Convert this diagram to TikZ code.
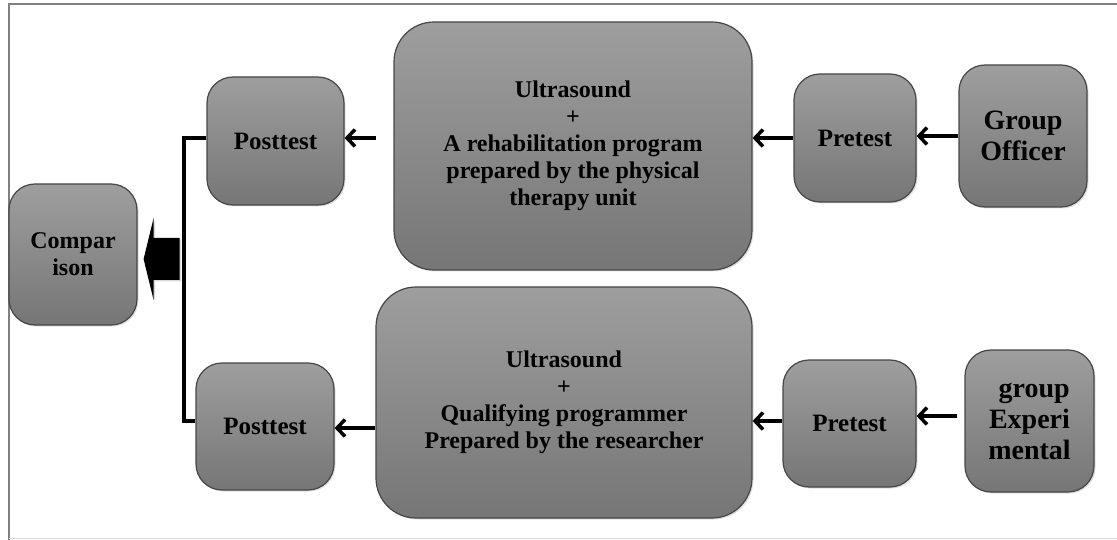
\documentclass[tikz,border=0pt]{standalone}
\usepackage{fontspec}
\setmainfont{Liberation Serif}
\usetikzlibrary{arrows.meta,shadows}
\definecolor{boxtop}{RGB}{158,158,158}
\definecolor{boxbot}{RGB}{118,118,118}
\definecolor{boxline}{RGB}{70,70,70}
\tikzset{
  box/.style={draw=boxline, line width=1.2pt, rounded corners=26pt,
    top color=boxtop, bottom color=boxbot, align=center, inner sep=2pt,
    font=\bfseries\fontsize{24}{27}\selectfont,
    drop shadow={opacity=0.25, shadow xshift=1.5pt, shadow yshift=-1.5pt}},
  bigbox/.style={box, rounded corners=40pt},
  grpfont/.style={font=\bfseries\fontsize{28}{31}\selectfont},
  tfont/.style={font=\bfseries\fontsize{25}{28}\selectfont},
  arr/.style={line width=3.5pt, -{Straight Barb[length=8pt,width=17pt]}},
  link/.style={line width=3.5pt},
}
\begin{document}
\begin{tikzpicture}[x=1pt,y=-1pt]
\useasboundingbox (0,0) rectangle (1117,540);
\draw[line width=1.5pt, color=gray] (9,540) -- (9,4) -- (1117,4);
\draw[line width=1pt, color=gray!30] (9,538) -- (1117,538);

\node[box, minimum width=128pt, minimum height=141pt] (comp) at (73,254.5) {Compar\\ison};
\node[box, tfont, minimum width=137pt, minimum height=128pt] (post1) at (275.5,141) {Posttest};
\node[bigbox, minimum width=358pt, minimum height=248pt] (prog1) at (573,146) {Ultrasound\\+\\A rehabilitation program\\prepared by the physical\\therapy unit};
\node[box, tfont, minimum width=122pt, minimum height=128pt] (pre1) at (855,138) {Pretest};
\node[box, grpfont, minimum width=128pt, minimum height=142pt] (grp1) at (1023,136) {Group\\Officer};

\node[box, tfont, minimum width=138pt, minimum height=127pt] (post2) at (265,426.5) {Posttest};
\node[bigbox, minimum width=376pt, minimum height=231pt] (prog2) at (564,402.5) {Ultrasound\\+\\Qualifying programmer\\Prepared by the researcher};
\node[box, tfont, minimum width=133pt, minimum height=127pt] (pre2) at (849.5,423.5) {Pretest};
\node[box, grpfont, minimum width=129pt, minimum height=142pt] (grp2) at (1029.5,421) {\,\,group\\Experi\\mental};

% top row arrows
\draw[arr] (grp1.west |- 0,136) -- (pre1.east |- 0,136);
\draw[arr] (pre1.west |- 0,138) -- (prog1.east |- 0,138);
\draw[arr] ([xshift=-17pt]prog1.west |- 0,138) -- (post1.east |- 0,138);
% bottom row arrows
\draw[arr] ([xshift=-7pt]grp2.west |- 0,416) -- (pre2.east |- 0,416);
\draw[arr] (pre2.west |- 0,421) -- (prog2.east |- 0,421);
\draw[arr] (prog2.west |- 0,428) -- (post2.east |- 0,428);

% joining line
\coordinate (j1) at (184,138);
\coordinate (j2) at (184,421);
\draw[link] (post1.west |- j1) -- (j1) -- (j2) -- (post2.west |- j2);

% block arrow into comparison
\coordinate (tip) at ([xshift=6pt]comp.east |- 0,259);
\fill[black, drop shadow={opacity=0.3, shadow xshift=1.5pt, shadow yshift=-1.5pt}]
  (tip) -- ++(10,-41) -- ++(0,20) -- ++(26,0) -- ++(0,42) -- ++(-26,0) -- ++(0,20) -- cycle;
\end{tikzpicture}
\end{document}
